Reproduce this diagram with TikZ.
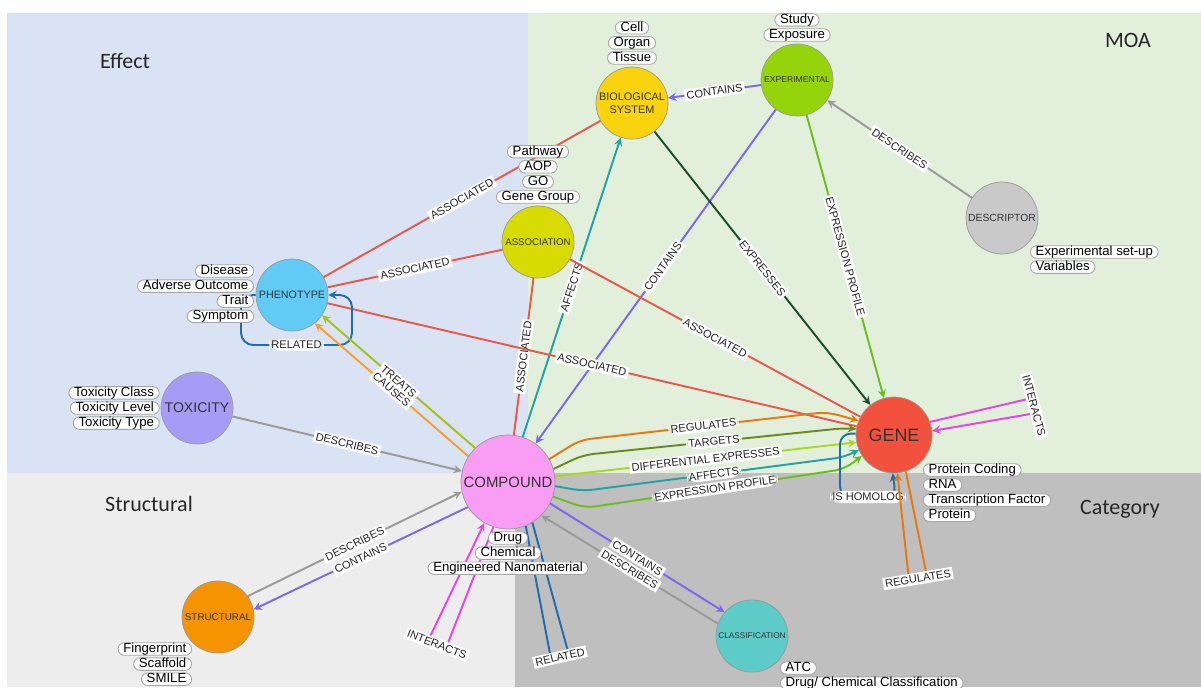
\documentclass[tikz,border=0pt]{standalone}
\usepackage{fontspec}
\setmainfont{Liberation Sans}
\newfontfamily\titlefont{Carlito}
\usetikzlibrary{arrows,positioning}

\definecolor{effectbg}{HTML}{DAE3F3}
\definecolor{moabg}{HTML}{E2EFDA}
\definecolor{structbg}{HTML}{EDEDED}
\definecolor{catbg}{HTML}{BFBFBF}

\definecolor{biofill}{HTML}{F9D30E}
\definecolor{expfill}{HTML}{95D40A}
\definecolor{descfill}{HTML}{C9C9C9}
\definecolor{assocfill}{HTML}{D7DB00}
\definecolor{phenofill}{HTML}{62CBF5}
\definecolor{toxfill}{HTML}{A69CF5}
\definecolor{compfill}{HTML}{F99DF4}
\definecolor{genefill}{HTML}{F2513D}
\definecolor{structfill}{HTML}{F59300}
\definecolor{classfill}{HTML}{5DCBC8}

\definecolor{containsc}{HTML}{7B68EE}
\definecolor{describesc}{HTML}{9A9A9A}
\definecolor{assocc}{HTML}{E8584C}
\definecolor{expressc}{HTML}{1D4D2B}
\definecolor{exprc}{HTML}{6CBE20}
\definecolor{affectsc}{HTML}{1FA3A6}
\definecolor{relatedc}{HTML}{1F6CB2}
\definecolor{treatsc}{HTML}{A5C214}
\definecolor{causesc}{HTML}{F3A030}
\definecolor{regulatesc}{HTML}{E8780E}
\definecolor{targetsc}{HTML}{6A8A1C}
\definecolor{diffc}{HTML}{A8D820}
\definecolor{interactsc}{HTML}{E843E8}

\begin{document}
\begin{tikzpicture}[x=0.02cm, y=-0.02cm,
    ent/.style={circle, draw=black!40, line width=0.4pt, minimum size=1.44cm, inner sep=0pt, align=center, text=black!80, font=\fontsize{6}{7.4}\selectfont},
    attr/.style={draw=black!35, line width=0.5pt, fill=white, rounded corners=3.5pt, inner xsep=3pt, inner ysep=0.15pt, text height=5.3pt, text depth=1.5pt, font=\fontsize{7.5}{8}\selectfont},
    lbl/.style={fill=white, inner sep=1.2pt, sloped, text=black!85, font=\fontsize{6.3}{7}\selectfont},
    rel/.style={line width=1.1pt},
    arrow/.style={rel, ->, >=stealth},
    title/.style={text=black!85, font=\titlefont\fontsize{12.5}{14}\selectfont}]

        \useasboundingbox (0,0) rectangle (1201,687);

        % areas
        \fill[white] (0,0) rectangle (1201,687);
        \fill[effectbg] (7,13) rectangle (528,473);
        \fill[moabg] (528,13) rectangle (1201,473);
        \fill[structbg] (7,473) rectangle (515,687);
        \fill[catbg] (515,473) rectangle (1201,687);

        \node[title] (effect_title) at (125,61) {Effect};
        \node[title] (moa_title) at (1128,40) {MOA};
        \node[title] (struct_title) at (149,504) {Structural};
        \node[title] (cat_title) at (1120,509) {Category};

        % entities
        \node[ent, fill=biofill, font=\fontsize{6.2}{7.4}\selectfont] (bio) at (632,103) {BIOLOGICAL\\SYSTEM};
        \node[ent, fill=expfill, font=\fontsize{4.9}{6}\selectfont] (exper) at (797,80) {EXPERIMENTAL};
        \node[ent, fill=descfill, font=\fontsize{5.9}{7}\selectfont] (desc) at (1002,218) {DESCRIPTOR};
        \node[ent, fill=assocfill, font=\fontsize{5.5}{7}\selectfont] (assoc) at (538,242) {ASSOCIATION};
        \node[ent, fill=phenofill, font=\fontsize{6.1}{7}\selectfont] (pheno) at (292,295) {PHENOTYPE};
        \node[ent, fill=toxfill, font=\fontsize{8}{9}\selectfont] (tox) at (197,408) {TOXICITY};
        \node[ent, fill=compfill, minimum size=1.88cm, font=\fontsize{8.5}{10}\selectfont] (compound) at (508,482) {COMPOUND};
        \node[ent, fill=genefill, minimum size=1.52cm, font=\fontsize{10.2}{12}\selectfont] (gene) at (894,435) {GENE};
        \node[ent, fill=structfill, font=\fontsize{5.6}{7}\selectfont] (struct) at (218,617) {STRUCTURAL};
        \node[ent, fill=classfill, font=\fontsize{4.7}{6}\selectfont] (classif) at (752,636) {CLASSIFICATION};

        % MOA relations
        \draw[arrow, containsc] (exper) -- node[lbl]{CONTAINS} (bio);
        \draw[arrow, describesc] (desc) -- node[lbl]{DESCRIBES} (exper);
        \draw[arrow, containsc] (exper) -- node[lbl, pos=0.47]{CONTAINS} (compound);
        \draw[arrow, exprc] (exper) -- node[lbl]{EXPRESSION PROFILE} (gene);
        \draw[arrow, expressc] (bio) -- node[lbl]{EXPRESSES} (gene);

        % Effect relations
        \draw[rel, assocc] (pheno) -- node[lbl]{ASSOCIATED} (bio);
        \draw[rel, assocc] (pheno) -- node[lbl]{ASSOCIATED} (assoc);
        \draw[rel, assocc] (assoc) -- node[lbl]{ASSOCIATED} (compound);
        \draw[arrow, affectsc] (compound) -- node[lbl]{AFFECTS} (bio);
        \draw[rel, assocc] (assoc) -- node[lbl]{ASSOCIATED} (gene);
        \draw[rel, assocc] (pheno) -- node[lbl]{ASSOCIATED} (gene);

        \coordinate (pheno_rel_l) at (241,345);
        \coordinate (pheno_rel_r) at (352,345);
        \draw[arrow, relatedc, rounded corners=7pt] (pheno.west) -| (pheno_rel_l) -- node[lbl]{RELATED} (pheno_rel_r) |- (pheno.east);

        \draw[arrow, treatsc] (compound.134) -- node[lbl]{TREATS} (pheno.-34);
        \draw[arrow, causesc] (compound.147) -- node[lbl]{CAUSES} (pheno.-51);
        \draw[arrow, describesc] (tox) -- node[lbl]{DESCRIBES} (compound);

        % Compound to gene
        \draw[arrow, regulatesc, rounded corners=6pt] (compound.29) -- (580,440) -- node[lbl]{REGULATES} (827,412) -- (gene.158);
        \draw[arrow, targetsc, rounded corners=6pt] (compound.16) -- (583,455) -- node[lbl]{TARGETS} (845,428) -- (gene.171);
        \draw[arrow, diffc] (compound.7) -- node[lbl]{DIFFERENTIAL EXPRESSES} (gene.191);
        \draw[arrow, affectsc, rounded corners=6pt] (compound.-5) -- (583,491) -- node[lbl]{AFFECTS} (845,457) -- (gene.203);
        \draw[arrow, exprc, rounded corners=6pt] (compound.-18) -- (585,508) -- node[lbl]{EXPRESSION PROFILE} (845,469) -- (gene.213);

        % Gene loops
        \coordinate (homolog_l) at (840,497);
        \coordinate (homolog_r) at (896,497);
        \draw[arrow, relatedc, rounded corners=6pt] (gene.178) -| (homolog_l) -- node[lbl]{IS HOMOLOG} (homolog_r) -- (gene.-92);

        \coordinate (gene_reg_r) at (927,577);
        \coordinate (gene_reg_l) at (909,580);
        \draw[arrow, regulatesc] (gene.-72) -- (gene_reg_r) -- node[lbl]{REGULATES} (gene_reg_l) -- (gene.-85);

        \coordinate (gene_int_t) at (1032,398);
        \coordinate (gene_int_b) at (1036,413);
        \draw[arrow, interactsc] (gene.20) -- (gene_int_t) -- node[lbl]{INTERACTS} (gene_int_b) -- (gene.6);

        % Compound loops
        \coordinate (comp_int_r) at (446,648);
        \coordinate (comp_int_l) at (428,641);
        \draw[arrow, interactsc] (compound.-108) -- (comp_int_r) -- node[lbl]{INTERACTS} (comp_int_l) -- (compound.-120);

        \coordinate (comp_rel_l) at (551,659);
        \coordinate (comp_rel_r) at (569,655);
        \draw[rel, relatedc] (compound.-68) -- (comp_rel_l) -- node[lbl]{RELATED} (comp_rel_r) -- (compound.-59);

        % Category and structural relations
        \draw[arrow, containsc] (compound.-27) -- node[lbl]{CONTAINS} (classif.139);
        \draw[arrow, describesc] (classif.160) -- node[lbl]{DESCRIBES} (compound.-45);
        \draw[arrow, containsc] (compound.212) -- node[lbl]{CONTAINS} (struct.12);
        \draw[arrow, describesc] (struct.35) -- node[lbl]{DESCRIBES} (compound.192);

        % properties
        \node[attr, above=0.04cm of bio] (tissue) {Tissue};
        \node[attr, above=0.035cm of tissue] (organ) {Organ};
        \node[attr, above=0.035cm of organ] (cell) {Cell};

        \node[attr, above=0.04cm of exper] (exposure) {Exposure};
        \node[attr, above=0.035cm of exposure] (study) {Study};

        \node[attr, above=0.04cm of assoc] (genegroup) {Gene Group};
        \node[attr, above=0.035cm of genegroup] (go) {GO};
        \node[attr, above=0.035cm of go] (aop) {AOP};
        \node[attr, above=0.035cm of aop] (pathway) {Pathway};

        \node[attr, anchor=east] (disease) at (254,271) {Disease};
        \node[attr, below=0.035cm of disease.south east, anchor=north east] (adverse) {Adverse Outcome};
        \node[attr, below=0.035cm of adverse.south east, anchor=north east] (trait) {Trait};
        \node[attr, below=0.035cm of trait.south east, anchor=north east] (symptom) {Symptom};

        \node[attr, left=0.02cm of tox] (toxlevel) {Toxicity Level};
        \node[attr, above=0.035cm of toxlevel.north east, anchor=south east] (toxclass) {Toxicity Class};
        \node[attr, below=0.035cm of toxlevel.south east, anchor=north east] (toxtype) {Toxicity Type};

        \node[attr, anchor=west] (setup) at (1030,252) {Experimental set-up};
        \node[attr, below=0.035cm of setup.south west, anchor=north west] (variables) {Variables};

        \node[attr, anchor=west] (coding) at (923,470) {Protein Coding};
        \node[attr, below=0.035cm of coding.south west, anchor=north west] (rna) {RNA};
        \node[attr, below=0.035cm of rna.south west, anchor=north west] (tfactor) {Transcription Factor};
        \node[attr, below=0.035cm of tfactor.south west, anchor=north west] (protein) {Protein};

        \node[attr, below=0.04cm of compound] (drug) {Drug};
        \node[attr, below=0.035cm of drug] (chemical) {Chemical};
        \node[attr, below=0.035cm of chemical] (nano) {Engineered Nanomaterial};

        \node[attr, anchor=east] (fingerprint) at (192,649) {Fingerprint};
        \node[attr, below=0.035cm of fingerprint.south east, anchor=north east] (scaffold) {Scaffold};
        \node[attr, below=0.035cm of scaffold.south east, anchor=north east] (smile) {SMILE};

        \node[attr, anchor=west] (atc) at (780,668) {ATC};
        \node[attr, below=0.035cm of atc.south west, anchor=north west] (drugclass) {Drug/ Chemical Classification};

    \end{tikzpicture}
\end{document}
